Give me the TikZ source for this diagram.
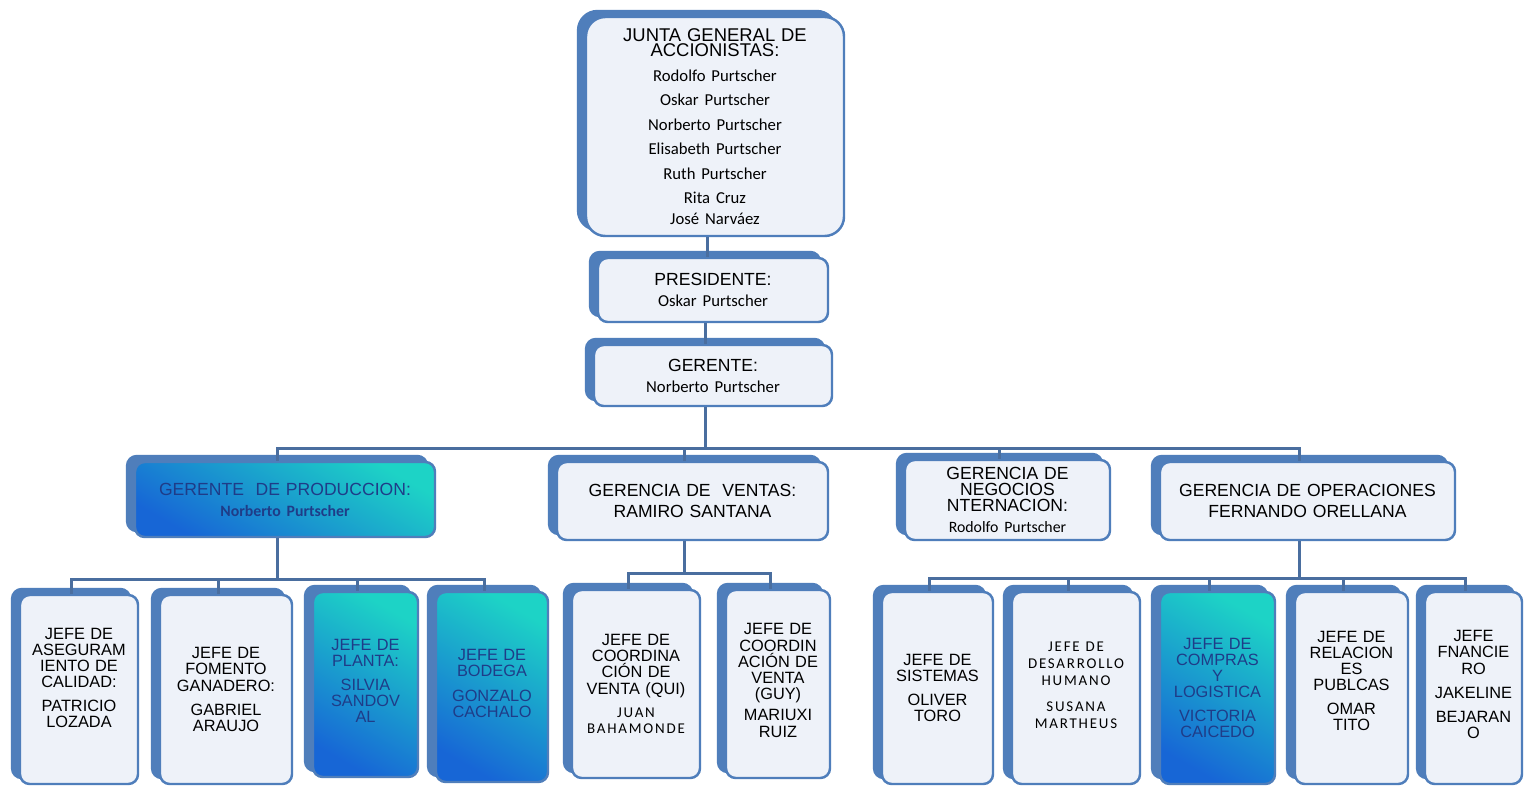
\documentclass[tikz,border=0pt]{standalone}
\usepackage{fontspec}
\setmainfont{Liberation Sans}
\newfontfamily\calibri{Carlito}
\newfontfamily\calsp[LetterSpace=12]{Carlito}
\usepackage{tikz}
\usetikzlibrary{shadows}

\definecolor{boxblue}{HTML}{4F7EBB}
\definecolor{linkblue}{HTML}{4A6E9F}
\definecolor{boxfill}{HTML}{EEF2F9}
\definecolor{gradtop}{HTML}{1DD3C6}
\definecolor{gradbot}{HTML}{1766D6}
\definecolor{navy}{HTML}{1F3C88}

% empty space under the text of a box, to lift the text
\newcommand{\lift}[1]{\par\kern#1\hrule height 0pt width 0pt\relax}

\begin{document}
\begin{tikzpicture}[x=0.02cm, y=-0.02cm,
  box/.style={draw=boxblue, line width=1.4pt, rounded corners=5.5pt, fill=boxfill,
    inner sep=0pt, align=center,
    copy shadow={shadow xshift=-4.5pt, shadow yshift=3.4pt, fill=boxblue, draw=boxblue}},
  grad/.style={box, top color=gradtop, bottom color=gradbot, shading angle=-30, text=navy},
  sz/.style 2 args={minimum width=#1*0.02cm, minimum height=#2*0.02cm, text width=#1*0.02cm-6pt},
  jefe/.style={font=\fontsize{9.3}{9.2}\selectfont},
  link/.style={draw=linkblue, line width=1.8pt}]
\useasboundingbox[fill=white] (0,0) rectangle (1526,787);

% top of the chart
\node[box, rounded corners=11pt, sz={258}{219}] (junta) at (715,126.5)
  {\fontsize{10.5}{9}\selectfont JUNTA GENERAL DE\\ACCIONISTAS:\par
   \calibri\fontsize{9.5}{13.9}\selectfont Rodolfo Purtscher\\Oskar Purtscher\\Norberto Purtscher\\Elisabeth Purtscher\\Ruth Purtscher\\Rita Cruz\\José Narváez};
\node[box, sz={230}{64}] (pres) at (713,290)
  {\fontsize{10}{12.5}\selectfont PRESIDENTE:\\{\calibri\fontsize{9.5}{12.5}\selectfont Oskar Purtscher}};
\node[box, sz={238}{61}] (ger) at (713,375.5)
  {\fontsize{10}{12.5}\selectfont GERENTE:\\{\calibri\fontsize{9.5}{12.5}\selectfont Norberto Purtscher}};

% gerencias
\node[grad, sz={300}{75}] (prod) at (285,499.5)
  {\fontsize{10}{12.5}\selectfont GERENTE\ \ DE PRODUCCION:\\{\calibri\bfseries\fontsize{9}{12.5}\selectfont Norberto Purtscher}};
\node[box, sz={271}{78}] (ventas) at (692.5,501)
  {\fontsize{10}{12}\selectfont GERENCIA DE\ \ VENTAS:\\RAMIRO SANTANA};
\node[box, sz={205}{80}] (negocios) at (1007.5,500)
  {\fontsize{10}{9}\selectfont GERENCIA DE\\NEGOCIOS\\NTERNACION:\\{\calibri\fontsize{9}{9}\selectfont Rodolfo Purtscher}};
\node[box, sz={295}{78}] (oper) at (1307.5,501)
  {\fontsize{10}{12.5}\selectfont GERENCIA DE OPERACIONES\\FERNANDO ORELLANA};

% jefes
\node[box, jefe, sz={118}{189}] (calidad) at (79,689.5)
  {JEFE DE\\ASEGURAM\\IENTO DE\\CALIDAD:\\[4.5pt]PATRICIO\\LOZADA\lift{13pt}};
\node[box, jefe, sz={132}{189}] (ganadero) at (226,689.5)
  {JEFE DE\\FOMENTO\\GANADERO:\\[4.5pt]GABRIEL\\ARAUJO};
\node[grad, jefe, sz={105}{185}] (planta) at (365.5,684.5)
  {JEFE DE\\PLANTA:\\[4.5pt]SILVIA\\SANDOV\\AL\lift{4pt}};
\node[grad, jefe, sz={112}{190}] (bodega) at (492,687)
  {JEFE DE\\BODEGA\\[4.5pt]GONZALO\\CACHALO\lift{4pt}};
\node[box, jefe, sz={128}{188}] (qui) at (636,684)
  {JEFE DE\\COORDINA\\CIÓN DE\\VENTA (QUI)\par\vspace{4pt}
   \calsp\fontsize{8.5}{9.2}\selectfont JUAN\\BAHAMONDE};
\node[box, jefe, sz={104}{188}] (guy) at (778,684)
  {JEFE DE\\COORDIN\\ACIÓN DE\\VENTA\\(GUY)\\[3pt]MARIUXI\\RUIZ\lift{4pt}};
\node[box, jefe, sz={111}{192}] (sistemas) at (937.5,688)
  {JEFE DE\\SISTEMAS\\[4.5pt]OLIVER\\TORO};
\node[box, sz={128}{192}] (desarrollo) at (1076,688)
  {\calsp\fontsize{8.5}{9.6}\selectfont JEFE DE\\DESARROLLO\\HUMANO\\[5pt]SUSANA\\MARTHEUS\lift{3pt}};
\node[grad, jefe, sz={115}{192}] (compras) at (1217.5,688)
  {JEFE DE\\COMPRAS\\Y\\LOGISTICA\\[4.5pt]VICTORIA\\CAICEDO};
\node[box, jefe, sz={113}{192}] (relaciones) at (1351.5,688)
  {JEFE DE\\RELACION\\ES\\PUBLCAS\\[4.5pt]OMAR\\TITO\lift{8pt}};
\node[box, jefe, sz={97}{192}] (financiero) at (1473.5,688)
  {JEFE\\FNANCIE\\RO\\[4.5pt]JAKELINE\\[4.5pt]BEJARAN\\O\lift{4pt}};

% connectors
\draw[link] ([xshift=-4.5pt]junta.south) -- ([xshift=-4.5pt]junta.south |- pres.north);
\draw[link] ([xshift=-4.5pt]pres.south) -- ([xshift=-4.5pt]pres.south |- ger.north);
\draw[link] ([xshift=-4.5pt]ger.south) -- ++(0,41) coordinate (bus0);
\foreach \n in {prod,ventas,negocios,oper}
  \draw[link] (bus0) -| ([xshift=-4.5pt]\n.north);
\draw[link] ([xshift=-4.5pt]prod.south) -- ++(0,41) coordinate (bus1);
\foreach \n in {calidad,ganadero,planta,bodega}
  \draw[link] (bus1) -| ([xshift=-4.5pt]\n.north);
\draw[link] ([xshift=-4.5pt]ventas.south) -- ++(0,32) coordinate (bus2);
\foreach \n in {qui,guy}
  \draw[link] (bus2) -| ([xshift=-4.5pt]\n.north);
\draw[link] ([xshift=-4.5pt]oper.south) -- ++(0,37) coordinate (bus3);
\foreach \n in {sistemas,desarrollo,compras,relaciones,financiero}
  \draw[link] (bus3) -| ([xshift=-4.5pt]\n.north);
\end{tikzpicture}
\end{document}
